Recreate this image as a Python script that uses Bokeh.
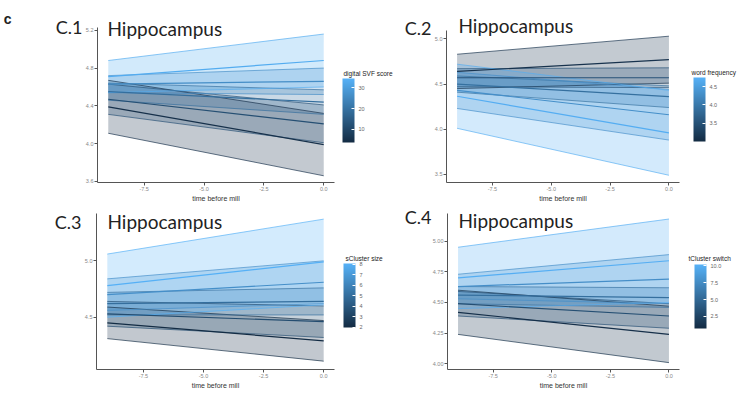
from bokeh.plotting import figure
from bokeh.models import (ColumnDataSource, LinearColorMapper, ColorBar, FixedTicker,
                          Label, Range1d, PrintfTickFormatter, LinearAxis)
from bokeh.layouts import row, column
from bokeh.embed import file_html
from bokeh.resources import INLINE

# ---------------- data ----------------
x_start, x_end = -9.0, 0.0
x_ticks = [-7.5, -5.0, -2.5, 0.0]

# C.1 : moderator "digital SVF score"
c1_levels = [5.0, 12.0, 19.0, 26.0, 33.0]
c1_center_start = [4.39, 4.47, 4.55, 4.63, 4.71]
c1_center_end = [3.99, 4.21, 4.44, 4.66, 4.88]
c1_half_start = [0.28, 0.16, 0.09, 0.09, 0.17]
c1_half_end = [0.33, 0.20, 0.13, 0.14, 0.28]
c1_y_ticks = [3.6, 4.0, 4.4, 4.8, 5.2]
c1_cb_ticks = [10, 20, 30]

# C.2 : moderator "word frequency"
c2_levels = [3.1, 3.5, 3.9, 4.3, 4.7]
c2_center_start = [4.64, 4.57, 4.50, 4.43, 4.365]
c2_center_end = [4.77, 4.57, 4.36, 4.16, 3.96]
c2_half_start = [0.19, 0.10, 0.09, 0.20, 0.355]
c2_half_end = [0.26, 0.11, 0.12, 0.28, 0.47]
c2_y_ticks = [3.5, 4.0, 4.5, 5.0]
c2_cb_ticks = [3.5, 4.0, 4.5]

# C.3 : moderator "sCluster size"
c3_levels = [2.0, 3.5, 5.0, 6.5, 8.0]
c3_center_start = [4.45, 4.53, 4.62, 4.70, 4.78]
c3_center_end = [4.29, 4.46, 4.64, 4.81, 4.99]
c3_half_start = [0.14, 0.11, 0.10, 0.14, 0.28]
c3_half_end = [0.18, 0.14, 0.12, 0.19, 0.38]
c3_y_ticks = [4.5, 5.0]
c3_cb_ticks = [2, 3, 4, 5, 6, 7, 8]

# C.4 : moderator "tCluster switch"
c4_levels = [1.0, 3.25, 5.5, 7.75, 10.0]
c4_center_start = [4.42, 4.49, 4.56, 4.63, 4.70]
c4_center_end = [4.24, 4.39, 4.54, 4.69, 4.84]
c4_half_start = [0.18, 0.10, 0.07, 0.10, 0.25]
c4_half_end = [0.23, 0.10, 0.08, 0.20, 0.34]
c4_y_ticks = [4.00, 4.25, 4.50, 4.75, 5.00]
c4_cb_ticks = [2.5, 5.0, 7.5, 10.0]

# ---------------- styling ----------------
LOW, HIGH = "#132B43", "#56B1F7"


def make_palette(c0, c1, n=256):
    a = [int(c0[i:i + 2], 16) for i in (1, 3, 5)]
    b = [int(c1[i:i + 2], 16) for i in (1, 3, 5)]
    out = []
    for k in range(n):
        t = k / (n - 1)
        out.append("#%02x%02x%02x" % tuple(round(a[j] + (b[j] - a[j]) * t) for j in range(3)))
    return out


PAL = make_palette(LOW, HIGH)
AX_FONT = "Liberation Sans"
TITLE_FONT = "Lato"


def text_axis(range_name, tick, text, side_standoff, font, size, style="normal"):
    ax = LinearAxis(y_range_name=range_name, ticker=FixedTicker(ticks=[tick]),
                    major_label_overrides={tick: text})
    ax.axis_line_color = None
    ax.major_tick_line_color = None
    ax.minor_tick_line_color = None
    ax.major_tick_out = 0
    ax.major_tick_in = 0
    ax.major_label_standoff = side_standoff
    ax.major_label_text_font = font
    ax.major_label_text_font_size = size
    ax.major_label_text_font_style = style
    ax.major_label_text_color = "#222222"
    return ax


def build_panel(width, height, borders, y_range, y_bounds, y_ticks, y_fmt,
                levels, cs, ce, hs, he, cb_range, cb_ticks, cb_fmt, cb_title, cb_loc,
                cb_title_px, cb_title_standoff, tag, tag_px, tag_standoff, title_pos):
    bl, br, bt, bb = borders
    frame_h = height - bt - bb
    p = figure(width=width, height=height, output_backend="svg", toolbar_location=None,
               x_range=Range1d(-9.45, 0.45), y_range=Range1d(*y_range),
               min_border=0, min_border_left=bl, min_border_right=br,
               min_border_top=bt, min_border_bottom=bb)
    p.extra_y_ranges = {"px": Range1d(0, frame_h)}
    p.xgrid.visible = False
    p.ygrid.visible = False
    p.outline_line_color = None
    p.background_fill_color = "white"
    p.border_fill_color = "white"

    mapper = LinearColorMapper(palette=PAL, low=cb_range[0], high=cb_range[1])

    r_xs, r_ys = [], []
    e_xs, e_ys, e_lv = [], [], []
    m_xs, m_ys = [], []
    for lv, c0, c1, h0, h1 in zip(levels, cs, ce, hs, he):
        r_xs.append([x_start, x_end, x_end, x_start])
        r_ys.append([c0 - h0, c1 - h1, c1 + h1, c0 + h0])
        e_xs += [[x_start, x_end], [x_start, x_end]]
        e_ys += [[c0 - h0, c1 - h1], [c0 + h0, c1 + h1]]
        e_lv += [lv, lv]
        m_xs.append([x_start, x_end])
        m_ys.append([c0, c1])

    src_r = ColumnDataSource(dict(xs=r_xs, ys=r_ys, level=levels))
    src_e = ColumnDataSource(dict(xs=e_xs, ys=e_ys, level=e_lv))
    src_m = ColumnDataSource(dict(xs=m_xs, ys=m_ys, level=levels))
    cmap = {"field": "level", "transform": mapper}
    p.patches("xs", "ys", source=src_r, fill_color=cmap, fill_alpha=0.26, line_color=None)
    p.multi_line("xs", "ys", source=src_e, line_color=cmap, line_width=0.8, line_alpha=0.85)
    p.multi_line("xs", "ys", source=src_m, line_color=cmap, line_width=1.2)

    # main axes
    p.xaxis.ticker = FixedTicker(ticks=x_ticks)
    p.yaxis.ticker = FixedTicker(ticks=y_ticks)
    p.yaxis.bounds = y_bounds
    p.xaxis.formatter = PrintfTickFormatter(format="%.1f")
    p.yaxis.formatter = PrintfTickFormatter(format=y_fmt)
    p.xaxis.axis_label = "time before mill"
    p.xaxis.axis_label_text_font = AX_FONT
    p.xaxis.axis_label_text_font_size = "7px"
    p.xaxis.axis_label_text_font_style = "normal"
    p.xaxis.axis_label_text_color = "#333333"
    p.xaxis.axis_label_standoff = 1
    for ax in (p.xaxis[0], p.yaxis[0]):
        ax.major_label_text_font = AX_FONT
        ax.major_label_text_font_size = "5.5px"
        ax.major_label_text_color = "#888888"
        ax.major_label_standoff = 1
        ax.axis_line_color = "#555555"
        ax.axis_line_width = 1
        ax.major_tick_line_color = "#555555"
        ax.major_tick_out = 3
        ax.major_tick_in = 0
        ax.minor_tick_line_color = None

    # panel tag (C.1 ...) to the left of the y axis
    p.add_layout(text_axis("px", tag_px, tag, tag_standoff, TITLE_FONT, "18px"), "left")
    # legend title to the right of the panel
    p.add_layout(text_axis("px", cb_title_px, cb_title, cb_title_standoff, AX_FONT, "6.5px"), "right")

    cb = ColorBar(color_mapper=mapper, width=12, height=64, location=cb_loc,
                  ticker=FixedTicker(ticks=cb_ticks),
                  formatter=PrintfTickFormatter(format=cb_fmt),
                  major_label_text_font=AX_FONT,
                  major_label_text_font_size="5.5px", major_label_text_color="#666666",
                  major_tick_in=3, major_tick_line_color="white", bar_line_color=None,
                  padding=0, margin=0, background_fill_alpha=0, border_line_color=None,
                  label_standoff=4)
    p.add_layout(cb)

    p.add_layout(Label(x=title_pos[0], y=title_pos[1], x_units="screen", y_units="screen",
                       text="Hippocampus", text_font=TITLE_FONT, text_font_size="19px",
                       text_color="#222222", text_baseline="middle"))
    return p


p1 = build_panel(401, 204, (96, 67, 2, 21), (3.589, 5.494), (3.589, 5.23), c1_y_ticks, "%.1f",
                 c1_levels, c1_center_start, c1_center_end, c1_half_start, c1_half_end,
                 (3.8, 34.3), c1_cb_ticks, "%d", "digital SVF score", (245, 40), 110, 9,
                 "C.1", 156, 0, (10, 154))
p1.add_layout(text_axis("px", 164, "c", 41, "Liberation Sans", "14px", "bold"), "left")

p2 = build_panel(344, 204, (39, 66, 2, 20), (3.41, 5.403), (3.41, 5.09), c2_y_ticks, "%.1f",
                 c2_levels, c2_center_start, c2_center_end, c2_half_start, c2_half_end,
                 (3.0, 4.75), c2_cb_ticks, "%.1f", "word frequency", (247, 41), 111, 12,
                 "C.2", 156, 0, (12, 157))

p3 = build_panel(401, 190, (96, 67, 2, 24), (4.036, 5.482), (4.036, 5.42), c3_y_ticks, "%.1f",
                 c3_levels, c3_center_start, c3_center_end, c3_half_start, c3_half_end,
                 (1.97, 8.05), c3_cb_ticks, "%d", "sCluster size", (247, 42), 112, 11,
                 "C.3", 148, 0, (11, 148))

p4 = build_panel(344, 190, (39, 66, 2, 25), (3.954, 5.282), (3.954, 5.223), c4_y_ticks, "%.2f",
                 c4_levels, c4_center_start, c4_center_end, c4_half_start, c4_half_end,
                 (0.7, 10.2), c4_cb_ticks, "%.1f", "tCluster switch", (247, 41), 111, 9,
                 "C.4", 155, -2, (11, 149))

layout = column(row(p1, p2, spacing=0), row(p3, p4, spacing=0), spacing=0)

open("out.html", "w").write(file_html(layout, INLINE))
